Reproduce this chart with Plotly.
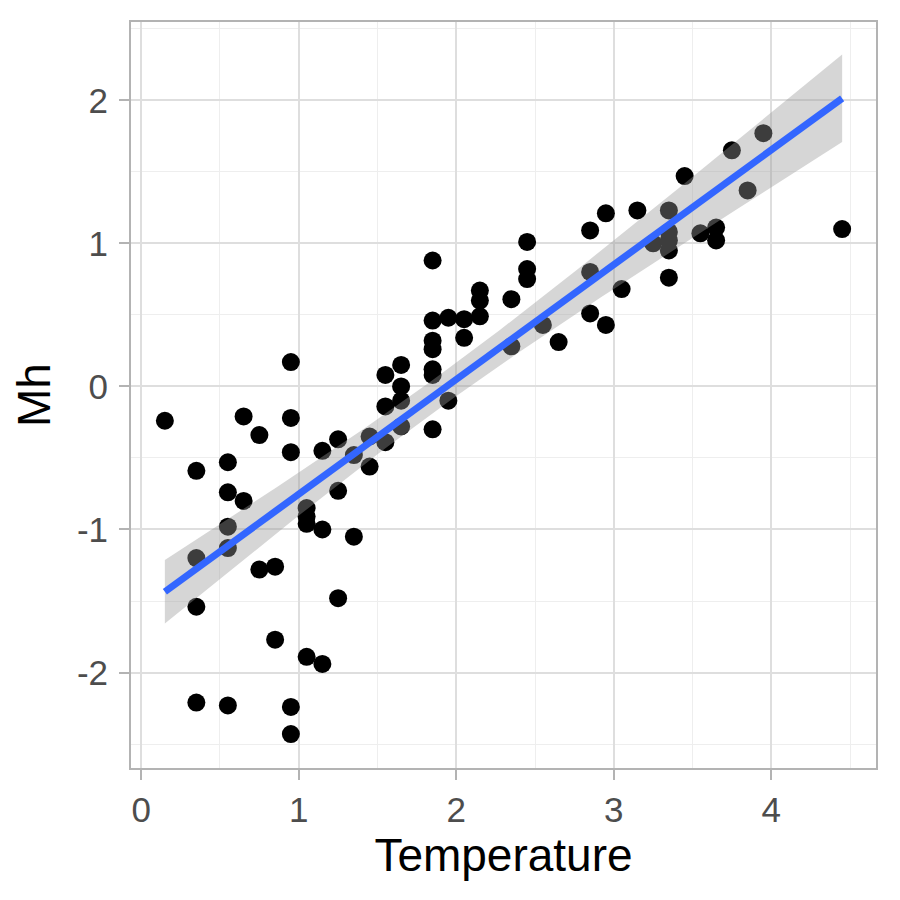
import numpy as np
import plotly.graph_objects as go

# ---- data ----
temperature = [
    0.15,
    0.35, 0.35, 0.35, 0.35,
    0.55, 0.55, 0.55, 0.55, 0.55,
    0.65, 0.65,
    0.75, 0.75,
    0.85, 0.85,
    0.95, 0.95, 0.95, 0.95, 0.95,
    1.05, 1.05, 1.05, 1.05,
    1.15, 1.15, 1.15,
    1.25, 1.25, 1.25,
    1.35, 1.35,
    1.45, 1.45,
    1.55, 1.55, 1.55,
    1.65, 1.65, 1.65, 1.65,
    1.85, 1.85, 1.85, 1.85, 1.85, 1.85, 1.85,
    1.95, 1.95,
    2.05, 2.05,
    2.15, 2.15, 2.15,
    2.35, 2.35,
    2.45, 2.45, 2.45,
    2.55,
    2.65,
    2.85, 2.85, 2.85,
    2.95, 2.95,
    3.05,
    3.15,
    3.25,
    3.35, 3.35, 3.35, 3.35, 3.35,
    3.45,
    3.55,
    3.65, 3.65,
    3.75,
    3.85,
    3.95,
    4.45,
]
mh = [
    -0.24,
    -0.59, -1.20, -1.54, -2.21,
    -0.53, -0.74, -0.98, -1.13, -2.23,
    -0.21, -0.80,
    -0.34, -1.28,
    -1.26, -1.77,
    0.17, -0.22, -0.46, -2.24, -2.43,
    -0.85, -0.91, -0.96, -1.89,
    -0.45, -1.00, -1.94,
    -0.37, -0.73, -1.48,
    -0.48, -1.05,
    -0.35, -0.56,
    0.08, -0.14, -0.39,
    0.15, 0.00, -0.10, -0.28,
    0.88, 0.46, 0.32, 0.26, 0.12, 0.08, -0.30,
    0.48, -0.10,
    0.47, 0.34,
    0.67, 0.60, 0.49,
    0.61, 0.28,
    1.01, 0.82, 0.75,
    0.43,
    0.31,
    1.09, 0.80, 0.51,
    1.21, 0.43,
    0.68,
    1.23,
    1.00,
    1.23, 1.08, 1.02, 0.95, 0.76,
    1.47,
    1.07,
    1.11, 1.02,
    1.65,
    1.37,
    1.77,
    1.10,
]

x_ticks = [0, 1, 2, 3, 4]
y_ticks = [-2, -1, 0, 1, 2]
y_tick_labels = ["-2", "-1", "0", "1", "2"]

# ---- linear model (geom_smooth(method = "lm")) ----
x = np.array(temperature)
y = np.array(mh)
n = len(x)
slope, intercept = np.polyfit(x, y, 1)
resid = y - (intercept + slope * x)
s = np.sqrt(np.sum(resid ** 2) / (n - 2))
sxx = np.sum((x - x.mean()) ** 2)
T_CRIT = 1.989  # qt(0.975, df ~ n-2)
xs = np.linspace(x.min(), x.max(), 80)
fit = intercept + slope * xs
se = s * np.sqrt(1.0 / n + (xs - x.mean()) ** 2 / sxx)
upper = fit + T_CRIT * se
lower = fit - T_CRIT * se

FONT = "Liberation Sans, Arial, Helvetica, sans-serif"
GRID_MAJOR = "#DEDEDE"
GRID_MINOR = "#EEEEEE"
BORDER = "#B3B3B3"

fig = go.Figure()
fig.add_trace(go.Scatter(
    x=temperature, y=mh, mode="markers",
    marker=dict(color="black", size=18, line=dict(width=0)),
    showlegend=False, hoverinfo="skip",
))
fig.add_trace(go.Scatter(
    x=xs, y=upper, mode="lines", line=dict(width=0, color="rgba(0,0,0,0)"),
    showlegend=False, hoverinfo="skip",
))
fig.add_trace(go.Scatter(
    x=xs, y=lower, mode="lines", line=dict(width=0, color="rgba(0,0,0,0)"),
    fill="tonexty", fillcolor="rgba(153,153,153,0.4)",
    showlegend=False, hoverinfo="skip",
))
fig.add_trace(go.Scatter(
    x=xs, y=fit, mode="lines", line=dict(color="#3366FF", width=7),
    showlegend=False, hoverinfo="skip",
))

axis_common = dict(
    showline=True, linecolor=BORDER, linewidth=2, mirror=True,
    showgrid=True, gridcolor=GRID_MAJOR, gridwidth=2,
    ticks="outside", ticklen=10, tickwidth=2, tickcolor=BORDER,
    tickfont=dict(family=FONT, size=35, color="#4D4D4D"),
    zeroline=False,
    minor=dict(dtick=0.5, showgrid=True, gridcolor=GRID_MINOR, gridwidth=1, ticks=""),
)

# the page body adds an 8px offset, so margins are shifted to compensate
fig.update_layout(
    width=900, height=900,
    margin=dict(l=123, r=32, t=14, b=140),
    paper_bgcolor="white", plot_bgcolor="white",
    font=dict(family=FONT),
    xaxis=dict(
        range=[-0.065, 4.665], tickvals=x_ticks, ticktext=[str(v) for v in x_ticks],
        title=dict(text="Temperature", font=dict(family=FONT, size=46, color="black"), standoff=10),
        **axis_common,
    ),
    yaxis=dict(
        range=[-2.667, 2.547], tickvals=y_ticks, ticktext=y_tick_labels,
        ticklabelstandoff=4,
        title=dict(text="Mh", font=dict(family=FONT, size=46, color="black"), standoff=14),
        **axis_common,
    ),
)

fig.write_html("out.html")
